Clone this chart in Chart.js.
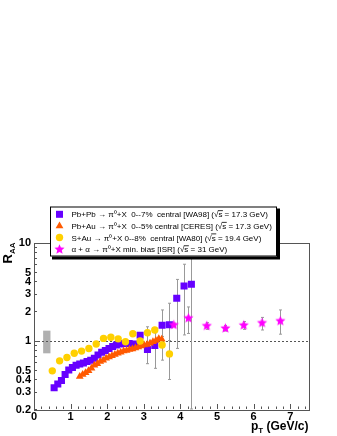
<!DOCTYPE html>
<html>
<head>
<meta charset="utf-8">
<script src="https://cdn.jsdelivr.net/npm/chart.js@4.4.1/dist/chart.umd.min.js"></script>
<style>
html, body { margin: 0; padding: 0; background: #fff; }
#wrap { width: 337px; height: 436px; }
</style>
</head>
<body>
<div id="wrap"><canvas id="raa" width="337" height="436"></canvas></div>
<script>
// WA98 Pb+Pb 0-7% central
var wa98X  = [0.55,0.65,0.75,0.85,0.95,1.05,1.15,1.25,1.35,1.45,1.55,1.65,1.75,1.85,1.95,2.05,2.15,2.25,2.35,2.45,2.6,2.75,2.9,3.1,3.3,3.5,3.7,3.9,4.1,4.3];
var wa98Y  = [0.33,0.36,0.39,0.45,0.50,0.53,0.56,0.575,0.59,0.61,0.63,0.66,0.71,0.76,0.79,0.83,0.87,0.90,0.92,0.93,0.93,0.92,1.13,0.81,0.89,1.43,1.45,2.7,3.6,3.75];
var wa98Hi = [null,null,null,null,null,null,null,null,null,null,null,null,null,null,null,null,null,null,null,null,null,null,null,1.38,1.2,2.05,2.4,4.2,6.0,20];
var wa98Lo = [null,null,null,null,null,null,null,null,null,null,null,null,null,null,null,null,null,null,null,null,null,null,null,0.58,0.52,1.0,1.0,0.83,1.14,0.2];

// CERES Pb+Au 0-5% central
var ceresX = [1.25,1.33,1.41,1.49,1.57,1.65,1.73,1.81,1.89,1.97,2.05,2.13,2.21,2.29,2.37,2.45,2.53,2.61,2.69,2.77,2.85,2.93,3.01,3.09,3.17,3.25,3.33,3.41,3.49];
var ceresY = [0.43,0.45,0.47,0.49,0.52,0.56,0.58,0.61,0.63,0.66,0.68,0.70,0.72,0.74,0.76,0.78,0.79,0.81,0.82,0.84,0.86,0.88,0.90,0.91,0.94,0.97,1.0,1.04,1.03];

// WA80 S+Au 0-8% central
var wa80X  = [0.5,0.7,0.9,1.1,1.3,1.5,1.7,1.9,2.1,2.3,2.5,2.7,2.9,3.1,3.3,3.5,3.7];
var wa80Y  = [0.49,0.62,0.67,0.74,0.78,0.83,0.92,1.05,1.08,1.04,0.97,1.17,0.99,1.2,1.28,0.9,0.73];
var wa80Hi = [null,null,null,null,null,null,null,null,null,null,null,null,null,null,null,1.1,1.0];
var wa80Lo = [null,null,null,null,null,null,null,null,null,null,null,null,null,null,null,0.63,0.40];

// ISR alpha+alpha min. bias
var isrX  = [3.82,4.22,4.72,5.23,5.73,6.23,6.73];
var isrY  = [1.44,1.69,1.41,1.33,1.43,1.51,1.58];
var isrHi = [1.5,2.2,1.52,1.42,1.56,1.72,2.05];
var isrLo = [1.38,1.18,1.3,1.25,1.3,1.28,1.16];

// normalisation uncertainty box
var normBoxX = [0.25, 0.45];
var normBoxY = [0.74, 1.26];

var xTickLabels = [0,1,2,3,4,5,6,7];
var yTickLabels = [0.2,0.3,0.4,0.5,1,2,3,4,5,10];

var legendTexts = [
  'Pb+Pb \u2192 \u03c0\u2070+X  0--7%  central [WA98] (\u221As = 17.3 GeV)',
  'Pb+Au \u2192 \u03c0\u2070+X  0--5% central [CERES] (\u221As = 17.3 GeV)',
  'S+Au \u2192 \u03c0\u2070+X 0--8%  central [WA80] (\u221As = 19.4 GeV)',
  '\u03b1 + \u03b1 \u2192 \u03c0\u2070+X min. bias [ISR] (\u221As = 31 GeV)'
];

var PURPLE = '#6600ff', ORANGE = '#ff5a00', YELLOW = '#ffd000', MAGENTA = '#ff00ff';

function pts(xs, ys) {
  var out = [];
  for (var i = 0; i < xs.length; i++) out.push({x: xs[i], y: ys[i]});
  return out;
}

function makeStar(r, color) {
  var c = document.createElement('canvas');
  c.width = c.height = Math.ceil(2 * r + 2);
  var g = c.getContext('2d');
  var cx = c.width / 2;
  g.beginPath();
  for (var i = 0; i < 10; i++) {
    var rr = (i % 2) ? r * 0.45 : r;
    var a = -Math.PI / 2 + i * Math.PI / 5;
    g.lineTo(cx + rr * Math.cos(a), cx + rr * Math.sin(a));
  }
  g.closePath();
  g.fillStyle = color;
  g.fill();
  return c;
}
var starImg = makeStar(5.3, MAGENTA);

function drawMarker(ctx, kind, x, y) {
  ctx.save();
  if (kind === 'rect') {
    ctx.fillStyle = PURPLE;
    ctx.fillRect(x - 3.5, y - 3.5, 7, 7);
  } else if (kind === 'triangle') {
    ctx.fillStyle = ORANGE;
    ctx.beginPath();
    ctx.moveTo(x, y - 4.5);
    ctx.lineTo(x + 3.9, y + 2.25);
    ctx.lineTo(x - 3.9, y + 2.25);
    ctx.closePath();
    ctx.fill();
  } else if (kind === 'circle') {
    ctx.fillStyle = YELLOW;
    ctx.beginPath();
    ctx.arc(x, y, 3.7, 0, Math.PI * 2);
    ctx.fill();
  } else {
    ctx.drawImage(starImg, x - starImg.width / 2, y - starImg.height / 2);
  }
  ctx.restore();
}

function errBars(ctx, xs, his, los, sx, sy) {
  for (var i = 0; i < xs.length; i++) {
    if (his[i] == null) continue;
    var px = Math.round(sx.getPixelForValue(xs[i])) + 0.5;
    var top = sy.getPixelForValue(his[i]);
    var bot = sy.getPixelForValue(los[i]);
    ctx.beginPath();
    ctx.moveTo(px, top);
    ctx.lineTo(px, bot);
    ctx.moveTo(px - 1.5, top);
    ctx.lineTo(px + 1.5, top);
    ctx.moveTo(px - 1.5, bot);
    ctx.lineTo(px + 1.5, bot);
    ctx.stroke();
  }
}

var rootStyle = {
  id: 'rootStyle',
  beforeDatasetsDraw: function (chart) {
    var ctx = chart.ctx, a = chart.chartArea;
    var sx = chart.scales.x, sy = chart.scales.y;
    ctx.save();

    // grey normalisation box
    ctx.fillStyle = '#b0b0b0';
    var bx0 = sx.getPixelForValue(normBoxX[0]), bx1 = sx.getPixelForValue(normBoxX[1]);
    var by0 = sy.getPixelForValue(normBoxY[1]), by1 = sy.getPixelForValue(normBoxY[0]);
    ctx.fillRect(bx0, by0, bx1 - bx0, by1 - by0);

    // dashed line at R_AA = 1
    var y1 = Math.round(sy.getPixelForValue(1)) + 0.5;
    ctx.strokeStyle = '#555';
    ctx.lineWidth = 1;
    ctx.setLineDash([2, 2]);
    ctx.beginPath();
    ctx.moveTo(a.left, y1);
    ctx.lineTo(a.right, y1);
    ctx.stroke();
    ctx.setLineDash([]);

    // error bars
    ctx.strokeStyle = '#999';
    errBars(ctx, wa98X, wa98Hi, wa98Lo, sx, sy);
    errBars(ctx, wa80X, wa80Hi, wa80Lo, sx, sy);
    errBars(ctx, isrX, isrHi, isrLo, sx, sy);

    // frame
    ctx.strokeStyle = '#555';
    ctx.strokeRect(Math.round(a.left) + 0.5, Math.round(a.top) + 0.5,
                   Math.round(a.right - a.left), Math.round(a.bottom - a.top));

    // x ticks
    ctx.beginPath();
    for (var i = 0; i <= 37; i++) {
      var v = i * 0.2;
      var px = Math.round(sx.getPixelForValue(v)) + 0.5;
      var len = (i % 5 === 0) ? 5 : 2.5;
      ctx.moveTo(px, a.bottom);
      ctx.lineTo(px, a.bottom - len);
    }
    // y ticks (log)
    var decades = [0.1, 1];
    for (var d = 0; d < decades.length; d++) {
      for (var m = 1; m <= 10; m++) {
        var val = decades[d] * m;
        if (val < 0.2 - 1e-9 || val > 10 + 1e-9) continue;
        var py = Math.round(sy.getPixelForValue(val)) + 0.5;
        var major = (m === 1 || m === 10);
        ctx.moveTo(a.left, py);
        ctx.lineTo(a.left + (major ? 6 : 3), py);
      }
    }
    ctx.stroke();

    // tick labels
    ctx.fillStyle = '#000';
    ctx.font = 'bold 11px "Liberation Sans", Arial, sans-serif';
    ctx.textAlign = 'center';
    ctx.textBaseline = 'middle';
    xTickLabels.forEach(function (t) {
      ctx.fillText(String(t), sx.getPixelForValue(t), a.bottom + 8);
    });
    ctx.textAlign = 'right';
    yTickLabels.forEach(function (t) {
      ctx.fillText(String(t), a.left - 3, sy.getPixelForValue(t) + 0.5);
    });
    ctx.restore();
  },
  afterDatasetsDraw: function (chart) {
    var ctx = chart.ctx, a = chart.chartArea;
    ctx.save();

    // legend box with shadow
    var lx = 50, ly = 206.5, lw = 227, lh = 50;
    ctx.fillStyle = '#000';
    ctx.fillRect(lx + 2, ly + 2, lw + 1, lh + 1);
    ctx.fillStyle = '#fff';
    ctx.fillRect(lx, ly, lw, lh);
    ctx.strokeStyle = '#000';
    ctx.lineWidth = 1;
    ctx.strokeRect(lx + 0.5, ly + 0.5, lw - 1, lh - 1);

    var kinds = ['rect', 'triangle', 'circle', 'star'];
    var rows = [214.3, 225.9, 237.5, 249.4];
    ctx.font = '8px "Liberation Sans", Arial, sans-serif';
    ctx.textAlign = 'left';
    ctx.textBaseline = 'alphabetic';
    for (var i = 0; i < 4; i++) {
      drawMarker(ctx, kinds[i], 59.5, rows[i]);
      var txt = legendTexts[i];
      var tx = 71.5, base = rows[i] + 3;
      ctx.fillStyle = '#000';
      ctx.fillText(txt, tx, base);
      // overline on s in sqrt(s)
      var k = txt.indexOf('\u221As');
      if (k >= 0) {
        var x0 = tx + ctx.measureText(txt.substring(0, k + 1)).width;
        var ws = ctx.measureText('s').width;
        ctx.fillRect(x0 - 0.5, base - 7, ws + 1, 0.8);
      }
    }

    // axis titles
    ctx.fillStyle = '#000';
    ctx.font = 'bold 12px "Liberation Sans", Arial, sans-serif';
    var wP = ctx.measureText('p').width;
    var wRest = ctx.measureText(' (GeV/c)').width;
    ctx.font = 'bold 8px "Liberation Sans", Arial, sans-serif';
    var wT = ctx.measureText('T').width;
    var xr = a.right, bl = 430;
    ctx.textAlign = 'left';
    ctx.font = 'bold 12px "Liberation Sans", Arial, sans-serif';
    ctx.fillText('p', xr - wRest - wT - wP, bl);
    ctx.fillText(' (GeV/c)', xr - wRest, bl);
    ctx.font = 'bold 8px "Liberation Sans", Arial, sans-serif';
    ctx.fillText('T', xr - wRest - wT, bl + 2.5);

    ctx.translate(0, a.top);
    ctx.rotate(-Math.PI / 2);
    ctx.font = 'bold 8px "Liberation Sans", Arial, sans-serif';
    var wAA = ctx.measureText('AA').width;
    ctx.fillText('AA', -wAA, 14.5);
    ctx.font = 'bold 13px "Liberation Sans", Arial, sans-serif';
    var wR = ctx.measureText('R').width;
    ctx.fillText('R', -wAA - wR, 12);
    ctx.restore();
  }
};

new Chart(document.getElementById('raa'), {
  type: 'scatter',
  data: {
    datasets: [
      { label: 'ISR', data: pts(isrX, isrY), pointStyle: starImg, pointRadius: 5, backgroundColor: MAGENTA, borderWidth: 0 },
      { label: 'WA80', data: pts(wa80X, wa80Y), pointStyle: 'circle', pointRadius: 3.7, backgroundColor: YELLOW, borderWidth: 0 },
      { label: 'CERES', data: pts(ceresX, ceresY), pointStyle: 'triangle', pointRadius: 4.5, backgroundColor: ORANGE, borderWidth: 0 },
      { label: 'WA98', data: pts(wa98X, wa98Y), pointStyle: 'rect', pointRadius: 5, backgroundColor: PURPLE, borderWidth: 0 }
    ]
  },
  options: {
    responsive: false,
    animation: false,
    devicePixelRatio: 1,
    layout: { padding: { left: 34, right: 28.5, top: 242.5, bottom: 27 } },
    plugins: { legend: { display: false }, tooltip: { enabled: false } },
    scales: {
      x: { type: 'linear', min: 0, max: 7.5, display: false },
      y: { type: 'logarithmic', min: 0.2, max: 10, display: false }
    }
  },
  plugins: [rootStyle]
});
</script>
</body>
</html>
